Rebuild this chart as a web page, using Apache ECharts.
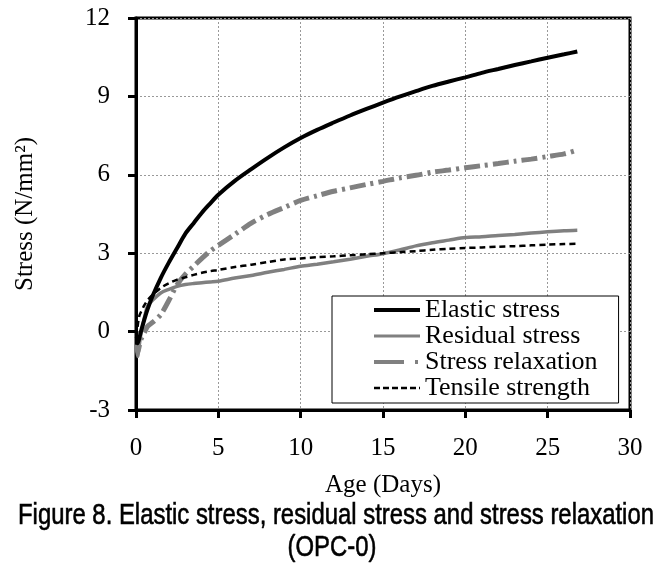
<!DOCTYPE html>
<html>
<head>
<meta charset="utf-8">
<script src="https://cdn.jsdelivr.net/npm/echarts@6/dist/echarts.min.js"></script>
<style>
html,body{margin:0;padding:0;background:#fff;}
#chart{width:663px;height:563px;}
</style>
</head>
<body>
<div id="chart"></div>
<script>
// ---- Data ----
const days = [0.05, 0.1, 0.2, 0.3, 0.5, 0.7, 1, 1.5, 2, 2.5, 3, 3.5, 4, 4.5, 5, 6, 7, 8, 9, 10, 11, 12, 13, 14, 15, 16, 17, 18, 19, 20, 21, 22, 23, 24, 25, 26, 26.8];
const elasticStress = [-0.2, -0.45, -0.25, 0.0, 0.45, 0.85, 1.35, 2.05, 2.65, 3.2, 3.75, 4.15, 4.55, 4.9, 5.24, 5.77, 6.22, 6.65, 7.05, 7.41, 7.72, 8.0, 8.27, 8.52, 8.76, 8.99, 9.2, 9.4, 9.57, 9.73, 9.9, 10.05, 10.2, 10.34, 10.48, 10.61, 10.72];
const residualStress = [-0.7, -0.95, -0.5, -0.1, 0.5, 0.97, 1.2, 1.48, 1.62, 1.73, 1.8, 1.84, 1.87, 1.9, 1.93, 2.05, 2.15, 2.27, 2.38, 2.5, 2.58, 2.67, 2.77, 2.88, 2.98, 3.12, 3.28, 3.4, 3.5, 3.6, 3.63, 3.68, 3.72, 3.77, 3.82, 3.86, 3.88];
const stressRelaxation = [-0.5, -0.8, -0.55, -0.3, -0.05, 0.2, 0.35, 0.65, 1.2, 1.8, 2.2, 2.5, 2.8, 3.08, 3.3, 3.72, 4.15, 4.48, 4.75, 5.02, 5.2, 5.37, 5.5, 5.63, 5.75, 5.88, 5.98, 6.1, 6.18, 6.27, 6.35, 6.43, 6.52, 6.6, 6.7, 6.8, 6.95];
const tensileStrength = [-0.2, 0.2, 0.6, 0.75, 1.0, 1.2, 1.4, 1.67, 1.85, 1.99, 2.08, 2.17, 2.25, 2.31, 2.36, 2.47, 2.56, 2.66, 2.76, 2.8, 2.85, 2.88, 2.92, 2.96, 3.0, 3.04, 3.08, 3.13, 3.17, 3.2, 3.22, 3.25, 3.27, 3.3, 3.33, 3.35, 3.36];
const seriesNames = ['Elastic stress', 'Residual stress', 'Stress relaxation', 'Tensile strength'];
const xTicks = {min: 0, max: 30, interval: 5};
const yTicks = {min: -3, max: 12, interval: 3};
const xTitle = 'Age (Days)';
const yTitle = 'Stress (N/mm\u00B2)';
const captionLine1 = 'Figure 8. Elastic stress, residual stress and stress relaxation';
const captionLine2 = '(OPC-0)';

const pair = ys => days.map((d, i) => [d, ys[i]]);

const serif = 'Liberation Serif, Times New Roman, serif';
const capFont = '30px "Liberation Sans", Arial, sans-serif';

function measure(text, font) {
  const c = document.createElement('canvas').getContext('2d');
  c.font = font;
  return c.measureText(text).width;
}
const capScale = 636 / measure(captionLine1, capFont);

const styles = [
  {color: '#000', width: 4, type: 'solid'},
  {color: '#808080', width: 3.5, type: 'solid'},
  {color: '#808080', width: 5, type: [16, 5, 3, 5]},
  {color: '#000', width: 2.5, type: [6, 4]}
];
const legendStyles = [
  {color: '#000', width: 4, type: 'solid'},
  {color: '#808080', width: 3, type: 'solid'},
  {color: '#808080', width: 4, type: [30, 11, 3, 20]},
  {color: '#000', width: 2.5, type: [6, 3]}
];
const seriesData = [elasticStress, residualStress, stressRelaxation, tensileStrength];

const chart = echarts.init(document.getElementById('chart'), null, {renderer: 'canvas'});
chart.setOption({
  backgroundColor: '#fff',
  animation: false,
  grid: {left: 136, top: 18, right: 33, bottom: 153, show: true, borderColor: '#000', borderWidth: 3, backgroundColor: 'transparent'},
  legend: {
    orient: 'vertical', left: 332, top: 296,
    padding: [1, 21, 2, 40],
    itemWidth: 46, itemHeight: 14, itemGap: 0,
    backgroundColor: '#fff', borderColor: '#000', borderWidth: 1,
    itemStyle: {opacity: 0},
    textStyle: {fontFamily: serif, fontSize: 26, lineHeight: 26, color: '#000'},
    data: seriesNames.map((n, i) => ({name: n, itemStyle: {opacity: 0}, lineStyle: legendStyles[i]}))
  },
  xAxis: {
    type: 'value', min: xTicks.min, max: xTicks.max, interval: xTicks.interval,
    name: xTitle, nameLocation: 'middle', nameGap: 63,
    nameTextStyle: {fontFamily: serif, fontSize: 25, color: '#000'},
    axisLine: {show: true, onZero: false, lineStyle: {color: '#000', width: 3}},
    axisTick: {show: true, length: 8, lineStyle: {color: '#000', width: 3}},
    axisLabel: {fontFamily: serif, fontSize: 25, color: '#000', margin: 26},
    splitLine: {show: true, lineStyle: {color: '#999', width: 1, type: [2, 2]}}
  },
  yAxis: {
    type: 'value', min: yTicks.min, max: yTicks.max, interval: yTicks.interval,
    name: yTitle, nameLocation: 'middle', nameGap: 98, nameRotate: 90,
    nameTextStyle: {fontFamily: serif, fontSize: 25, color: '#000'},
    axisLine: {show: true, onZero: false, lineStyle: {color: '#000', width: 3}},
    axisTick: {show: true, length: 8, lineStyle: {color: '#000', width: 3}},
    axisLabel: {fontFamily: serif, fontSize: 25, color: '#000', margin: 26},
    splitLine: {show: true, lineStyle: {color: '#999', width: 1, type: [2, 2]}}
  },
  series: seriesNames.map((n, i) => ({
    name: n, type: 'line', data: pair(seriesData[i]), showSymbol: false, symbol: 'none', smooth: 0.3,
    z: [5, 3, 3, 4][i],
    lineStyle: styles[i], itemStyle: {color: styles[i].color}
  })),
  graphic: [
    {type: 'text', x: 336, y: 516, scaleX: capScale, scaleY: 1, silent: true,
     style: {text: captionLine1, font: capFont, fill: '#000', stroke: '#000', lineWidth: 0.6, textAlign: 'center', textVerticalAlign: 'middle'}},
    {type: 'text', x: 332, y: 548, scaleX: capScale, scaleY: 1, silent: true,
     style: {text: captionLine2, font: capFont, fill: '#000', stroke: '#000', lineWidth: 0.6, textAlign: 'center', textVerticalAlign: 'middle'}}
  ]
});
</script>
</body>
</html>
